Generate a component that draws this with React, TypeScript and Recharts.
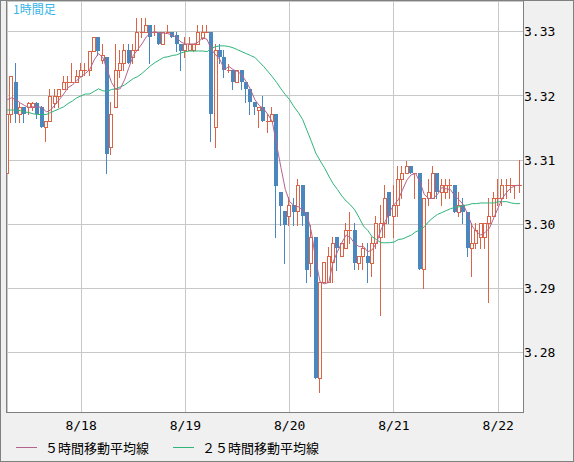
import React from 'react';
import { ComposedChart, Bar, Line, XAxis, YAxis, CartesianGrid } from 'recharts';

const dayTicks = [17, 41, 65, 89, 113];
const dayLabels = ['8/18', '8/19', '8/20', '8/21', '8/22'];
const priceTicks = [3.28, 3.29, 3.3, 3.31, 3.32, 3.33];
const seriesNames = ['５時間移動平均線', '２５時間移動平均線'];
const chartTitle = '1時間足';

const opens = [
  3.3080, 3.3171, 3.3222, 3.3171, 3.3182, 3.3182, 3.3182, 3.3189, 3.3182, 3.3152,
  3.3161, 3.3189, 3.3200, 3.3211, 3.3222, 3.3222, 3.3222, 3.3231, 3.3241, 3.3241,
  3.3270, 3.3292, 3.3256, 3.3261, 3.3121, 3.3182, 3.3241, 3.3252, 3.3272, 3.3261,
  3.3272, 3.3300, 3.3300, 3.3311, 3.3300, 3.3300, 3.3281, 3.3300, 3.3300, 3.3295,
  3.3281, 3.3272, 3.3272, 3.3272, 3.3281, 3.3291, 3.3300, 3.3300, 3.3152, 3.3272,
  3.3261, 3.3241, 3.3241, 3.3221, 3.3241, 3.3221, 3.3211, 3.3191, 3.3178, 3.3182,
  3.3161, 3.3161, 3.3171, 3.3050, 3.3021, 3.3012, 3.3030, 3.3021, 3.3061, 3.3019,
  3.2940, 3.2980, 3.2760, 3.2909, 3.2909, 3.2941, 3.2980, 3.2951, 3.2962, 3.2991,
  3.2991, 3.2940, 3.2951, 3.2951, 3.2940, 3.2971, 3.2980, 3.3001, 3.3050, 3.3012,
  3.3030, 3.3071, 3.3080, 3.3091, 3.3080, 3.3080, 3.2930, 3.3041, 3.3041, 3.3080,
  3.3050, 3.3050, 3.3061, 3.3061, 3.3019, 3.3030, 3.3019, 3.2962, 3.2971, 3.2980,
  3.2980, 3.3001, 3.3012, 3.3041, 3.3041, 3.3061, 3.3061, 3.3061, 3.3061,
];

const highs = [
  3.3175, 3.3231, 3.3252, 3.3189, 3.3182, 3.3191, 3.3191, 3.3191, 3.3185, 3.3161,
  3.3211, 3.3211, 3.3211, 3.3231, 3.3231, 3.3252, 3.3241, 3.3252, 3.3252, 3.3270,
  3.3292, 3.3292, 3.3281, 3.3261, 3.3191, 3.3281, 3.3272, 3.3281, 3.3281, 3.3281,
  3.3322, 3.3322, 3.3322, 3.3311, 3.3311, 3.3300, 3.3300, 3.3311, 3.3300, 3.3300,
  3.3281, 3.3292, 3.3292, 3.3281, 3.3311, 3.3311, 3.3311, 3.3300, 3.3281, 3.3281,
  3.3272, 3.3249, 3.3241, 3.3241, 3.3241, 3.3221, 3.3211, 3.3191, 3.3182, 3.3200,
  3.3171, 3.3182, 3.3171, 3.3050, 3.3021, 3.3043, 3.3041, 3.3071, 3.3061, 3.3019,
  3.2999, 3.2980, 3.2909, 3.2941, 3.2965, 3.2980, 3.2980, 3.2971, 3.3002, 3.3019,
  3.3001, 3.2951, 3.2971, 3.2971, 3.2980, 3.3012, 3.3030, 3.3061, 3.3050, 3.3061,
  3.3091, 3.3091, 3.3099, 3.3091, 3.3080, 3.3080, 3.3041, 3.3071, 3.3091, 3.3080,
  3.3071, 3.3071, 3.3071, 3.3061, 3.3050, 3.3041, 3.3019, 3.3001, 3.3001, 3.3001,
  3.3001, 3.3041, 3.3050, 3.3071, 3.3071, 3.3071, 3.3072, 3.3061, 3.3100,
];

const lows = [
  3.3040, 3.3160, 3.3160, 3.3160, 3.3160, 3.3171, 3.3178, 3.3166, 3.3152, 3.3130,
  3.3161, 3.3182, 3.3182, 3.3210, 3.3210, 3.3222, 3.3222, 3.3231, 3.3233, 3.3233,
  3.3270, 3.3264, 3.3252, 3.3080, 3.3110, 3.3182, 3.3230, 3.3241, 3.3252, 3.3252,
  3.3272, 3.3292, 3.3300, 3.3252, 3.3295, 3.3281, 3.3281, 3.3300, 3.3292, 3.3270,
  3.3241, 3.3261, 3.3272, 3.3270, 3.3281, 3.3288, 3.3300, 3.3130, 3.3121, 3.3252,
  3.3230, 3.3238, 3.3211, 3.3221, 3.3211, 3.3191, 3.3171, 3.3171, 3.3152, 3.3161,
  3.3143, 3.3161, 3.2980, 3.2999, 3.2940, 3.2999, 3.2999, 3.2999, 3.2999, 3.2909,
  3.2919, 3.2760, 3.2738, 3.2909, 3.2909, 3.2909, 3.2929, 3.2951, 3.2962, 3.2971,
  3.2930, 3.2930, 3.2930, 3.2909, 3.2919, 3.2962, 3.2859, 3.2980, 3.3001, 3.2980,
  3.3012, 3.3041, 3.3080, 3.3080, 3.3041, 3.2930, 3.2901, 3.3030, 3.3041, 3.3041,
  3.3030, 3.3041, 3.3041, 3.3019, 3.3012, 3.3001, 3.2951, 3.2919, 3.2962, 3.2962,
  3.2962, 3.2879, 3.3012, 3.3030, 3.3030, 3.3041, 3.3050, 3.3041, 3.3050,
];

const closes = [
  3.3171, 3.3231, 3.3171, 3.3182, 3.3171, 3.3189, 3.3189, 3.3171, 3.3152, 3.3161,
  3.3200, 3.3200, 3.3211, 3.3222, 3.3222, 3.3222, 3.3231, 3.3241, 3.3241, 3.3270,
  3.3292, 3.3270, 3.3264, 3.3110, 3.3171, 3.3241, 3.3252, 3.3272, 3.3252, 3.3272,
  3.3300, 3.3300, 3.3311, 3.3292, 3.3300, 3.3281, 3.3300, 3.3300, 3.3292, 3.3281,
  3.3270, 3.3281, 3.3281, 3.3281, 3.3300, 3.3300, 3.3300, 3.3171, 3.3272, 3.3261,
  3.3241, 3.3241, 3.3221, 3.3241, 3.3221, 3.3211, 3.3191, 3.3182, 3.3182, 3.3161,
  3.3161, 3.3171, 3.3060, 3.3029, 3.2999, 3.3030, 3.3019, 3.3061, 3.3012, 3.2929,
  3.2980, 3.2760, 3.2909, 3.2941, 3.2951, 3.2971, 3.2962, 3.2971, 3.2991, 3.2991,
  3.2940, 3.2951, 3.2962, 3.2940, 3.2971, 3.3001, 3.3001, 3.3041, 3.3012, 3.3030,
  3.3071, 3.3080, 3.3091, 3.3080, 3.3080, 3.2930, 3.3041, 3.3050, 3.3080, 3.3050,
  3.3061, 3.3061, 3.3061, 3.3019, 3.3030, 3.3019, 3.2962, 3.2971, 3.2991, 3.3001,
  3.3001, 3.3012, 3.3041, 3.3041, 3.3061, 3.3061, 3.3061, 3.3061, 3.3061,
];

const ma5 = [
  3.3194, 3.3197, 3.3194, 3.3189, 3.3185, 3.3182, 3.3183, 3.3183, 3.3182, 3.3175,
  3.3178, 3.3186, 3.3194, 3.3203, 3.3213, 3.3217, 3.3224, 3.3230, 3.3235, 3.3241,
  3.3256, 3.3266, 3.3260, 3.3241, 3.3221, 3.3210, 3.3211, 3.3225, 3.3244, 3.3263,
  3.3272, 3.3281, 3.3292, 3.3298, 3.3300, 3.3298, 3.3298, 3.3297, 3.3295, 3.3291,
  3.3284, 3.3281, 3.3281, 3.3281, 3.3284, 3.3291, 3.3288, 3.3272, 3.3264, 3.3256,
  3.3241, 3.3246, 3.3241, 3.3238, 3.3233, 3.3222, 3.3210, 3.3194, 3.3185, 3.3180,
  3.3171, 3.3160, 3.3124, 3.3088, 3.3054, 3.3035, 3.3029, 3.3027, 3.3022, 3.3015,
  3.2988, 3.2944, 3.2910, 3.2907, 3.2909, 3.2941, 3.2957, 3.2971, 3.2983, 3.2979,
  3.2969, 3.2965, 3.2965, 3.2957, 3.2960, 3.2971, 3.2991, 3.3004, 3.3019, 3.3030,
  3.3038, 3.3054, 3.3069, 3.3077, 3.3079, 3.3065, 3.3046, 3.3040, 3.3040, 3.3046,
  3.3057, 3.3055, 3.3054, 3.3044, 3.3038, 3.3030, 3.3015, 3.2997, 3.2988, 3.2983,
  3.2987, 3.2994, 3.3010, 3.3026, 3.3041, 3.3050, 3.3057, 3.3060, 3.3061,
];

const ma25 = [
  3.3178, 3.3178, 3.3178, 3.3177, 3.3175, 3.3174, 3.3172, 3.3171, 3.3171, 3.3171,
  3.3174, 3.3177, 3.3180, 3.3183, 3.3188, 3.3192, 3.3197, 3.3200, 3.3203, 3.3203,
  3.3207, 3.3211, 3.3208, 3.3207, 3.3210, 3.3211, 3.3214, 3.3217, 3.3222, 3.3227,
  3.3230, 3.3235, 3.3241, 3.3247, 3.3252, 3.3256, 3.3260, 3.3261, 3.3263, 3.3264,
  3.3267, 3.3269, 3.3270, 3.3270, 3.3270, 3.3270, 3.3269, 3.3274, 3.3277, 3.3278,
  3.3278, 3.3277, 3.3275, 3.3272, 3.3269, 3.3266, 3.3263, 3.3260, 3.3253, 3.3246,
  3.3238, 3.3230, 3.3221, 3.3211, 3.3202, 3.3194, 3.3183, 3.3174, 3.3163, 3.3146,
  3.3129, 3.3111, 3.3099, 3.3088, 3.3075, 3.3063, 3.3054, 3.3044, 3.3036, 3.3030,
  3.3022, 3.3010, 3.2997, 3.2990, 3.2980, 3.2976, 3.2971, 3.2971, 3.2971, 3.2972,
  3.2976, 3.2977, 3.2980, 3.2983, 3.2988, 3.2991, 3.2996, 3.3004, 3.3010, 3.3015,
  3.3018, 3.3021, 3.3024, 3.3026, 3.3027, 3.3029, 3.3030, 3.3032, 3.3032, 3.3033,
  3.3033, 3.3033, 3.3033, 3.3035, 3.3035, 3.3035, 3.3033, 3.3032, 3.3032,
];

const rows = closes.map((c, i) => ({
  idx: i,
  hl: [lows[i], highs[i]],
  open: opens[i],
  high: highs[i],
  low: lows[i],
  close: c,
  ma5: ma5[i],
  ma25: ma25[i],
}));

const UP = '#dc6446';
const DOWN = '#4a87bf';
const MA5_COLOR = '#b4648c';
const MA25_COLOR = '#2db57a';
const GRID = '#c8c8c8';
const FRAME = '#808080';
const MONO = '"DejaVu Sans Mono", "Liberation Mono", monospace';
const CJK = '"Noto Sans CJK JP", "Noto Sans CJK SC", sans-serif';

function Candle(props: any) {
  const { x, y, width, height, payload } = props;
  if (!payload || x == null || y == null) return null;
  const { open, close, high, low } = payload;
  const top = Math.min(y, y + height);
  const h = Math.abs(height);
  const span = high - low;
  const toY = (v: number) => (span > 0 ? top + ((high - v) / span) * h : top);
  const left = Math.round(x + width / 2 - 2);
  const wx = left + 1.5;
  const yH = Math.round(toY(high));
  const yL = Math.round(toY(low));
  const yO = toY(open);
  const yC = toY(close);
  const bTop = Math.round(Math.min(yO, yC));
  const bBot = Math.round(Math.max(yO, yC));
  const up = close >= open;
  const color = up ? UP : DOWN;
  if (up) {
    return (
      <g shapeRendering="crispEdges">
        <line x1={wx} x2={wx} y1={yH} y2={yL + 1} stroke={color} strokeWidth={1} />
        {bBot - bTop >= 1 ? (
          <rect x={left + 0.5} y={bTop + 0.5} width={3} height={bBot - bTop} fill="#ffffff" stroke={color} strokeWidth={1} />
        ) : (
          <line x1={left} x2={left + 4} y1={bTop + 0.5} y2={bTop + 0.5} stroke={color} strokeWidth={1} />
        )}
      </g>
    );
  }
  return (
    <g shapeRendering="crispEdges">
      <line x1={wx} x2={wx} y1={yH} y2={yL + 1} stroke={color} strokeWidth={1} />
      <rect x={left} y={bTop} width={4} height={Math.max(bBot - bTop, 1)} fill={color} />
    </g>
  );
}

export default function App() {
  return (
    <div style={{ position: 'absolute', left: 0, top: 0, width: 574, height: 462, background: '#f0f0f0', overflow: 'hidden' }}>
      <style>{'body{margin:0}'}</style>
      <ComposedChart
        width={574}
        height={462}
        data={rows}
        margin={{ top: 1, right: 0, bottom: 0, left: 7 }}
      >
        <CartesianGrid stroke={GRID} fill="#ffffff" strokeDasharray="" shapeRendering="crispEdges" />
        <XAxis
          dataKey="idx"
          type="number"
          domain={[-0.05, 118.7]}
          ticks={dayTicks}
          allowDataOverflow
          tickFormatter={(v: number) => dayLabels[dayTicks.indexOf(v)] ?? ''}
          axisLine={false}
          tickLine={false}
          tickSize={0}
          tickMargin={9}
          height={50}
          interval={0}
          tick={{ fill: '#000', fontSize: 13, fontFamily: MONO }}
        />
        <YAxis
          orientation="right"
          type="number"
          domain={[3.2707, 3.3348]}
          ticks={priceTicks}
          allowDataOverflow
          tickFormatter={(v: number) => v.toFixed(2)}
          axisLine={false}
          tickLine={false}
          tickSize={0}
          tickMargin={1}
          width={51}
          interval={0}
          tick={{ fill: '#000', fontSize: 13, fontFamily: MONO }}
        />
        <Bar dataKey="hl" barSize={4} isAnimationActive={false} shape={(p: any) => <Candle {...p} />} />
        <Line dataKey="ma25" type="linear" stroke={MA25_COLOR} strokeWidth={1} dot={false} activeDot={false} isAnimationActive={false} />
        <Line dataKey="ma5" type="linear" stroke={MA5_COLOR} strokeWidth={1} dot={false} activeDot={false} isAnimationActive={false} />
      </ComposedChart>
      <div style={{ position: 'absolute', left: 6, top: 0, width: 518, height: 413, boxSizing: 'border-box', border: `1px solid ${FRAME}`, pointerEvents: 'none' }} />
      <div style={{ position: 'absolute', left: 0, top: 0, width: 574, height: 462, boxSizing: 'border-box', border: `1px solid ${FRAME}`, pointerEvents: 'none' }} />
      <div style={{ position: 'absolute', left: 13, top: 1, fontFamily: CJK, fontSize: 12, lineHeight: '16px', color: '#35b4e8' }}>{chartTitle}</div>
      <div style={{ position: 'absolute', left: 16, top: 438, height: 18, display: 'flex', alignItems: 'center', fontFamily: CJK, fontSize: 13, color: '#000', whiteSpace: 'nowrap' }}>
        <span style={{ display: 'inline-block', width: 21, height: 1, background: MA5_COLOR, marginRight: 8 }} />
        <span style={{ display: 'inline-block', width: 128 }}>{seriesNames[0]}</span>
        <span style={{ display: 'inline-block', width: 21, height: 1, background: MA25_COLOR, marginRight: 8 }} />
        <span>{seriesNames[1]}</span>
      </div>
    </div>
  );
}
